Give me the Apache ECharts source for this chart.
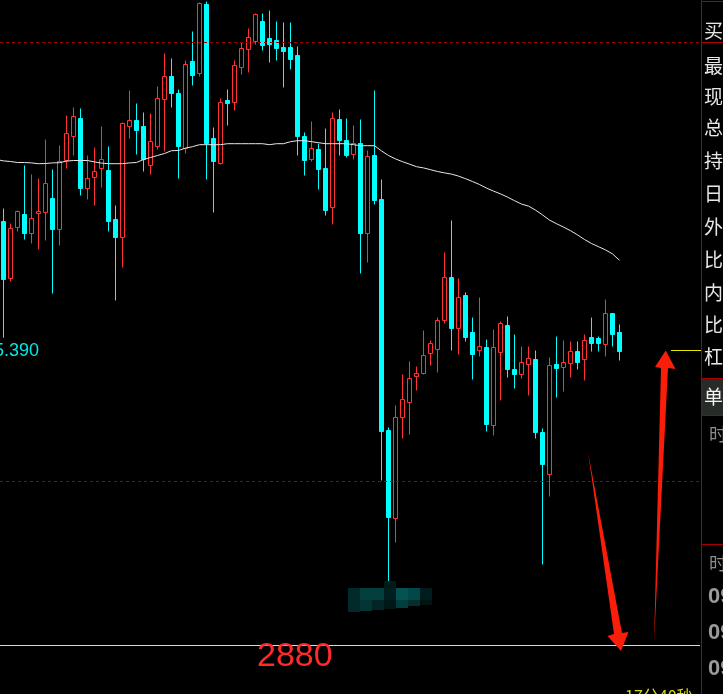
<!DOCTYPE html>
<html><head><meta charset="utf-8">
<style>html,body{margin:0;padding:0;background:#000;overflow:hidden}#c{width:723px;height:694px}</style>
<script src="https://cdn.jsdelivr.net/npm/echarts@6/dist/echarts.min.js"></script>
</head><body><div id="c"></div>
<script>
// ---- data (prices) ----
const opens = [2901.20,2898.35,2900.90,2901.55,2900.60,2901.60,2901.65,2902.35,2900.80,2904.25,
2905.45,2906.35,2902.85,2903.40,2903.85,2903.75,2901.30,2900.40,2905.95,2906.25,
2905.95,2904.00,2904.95,2907.30,2908.45,2907.60,2904.85,2909.20,2908.60,2912.05,
2905.35,2904.10,2907.25,2907.15,2908.90,2909.80,2910.20,2911.20,2910.35,2910.25,
2909.90,2909.90,2909.50,2905.45,2904.30,2904.80,2903.85,2901.90,2906.30,2905.25,
2904.55,2905.10,2900.60,2904.50,2902.30,2890.75,2886.35,2891.40,2892.15,2893.45,
2893.60,2894.60,2894.80,2896.25,2898.40,2895.85,2897.50,2895.65,2894.75,2894.90,
2891.00,2894.65,2896.00,2893.80,2893.55,2894.05,2894.30,2890.65,2888.55,2894.05,
2893.90,2894.10,2894.70,2894.30,2895.40,2895.35,2895.05,2896.60,2895.65];
const closes = [2898.30,2900.85,2901.70,2900.60,2901.35,2901.70,2903.10,2900.80,2904.20,2905.60,
2906.45,2902.85,2903.35,2903.70,2904.30,2901.20,2900.40,2906.10,2906.25,2905.75,
2904.30,2905.20,2907.35,2908.45,2907.60,2904.95,2909.05,2908.50,2912.10,2905.10,
2904.20,2907.15,2907.10,2909.00,2909.85,2910.40,2911.55,2910.00,2910.05,2909.85,
2909.70,2909.30,2905.45,2904.25,2904.85,2903.80,2901.75,2906.35,2905.25,2904.50,
2905.10,2900.60,2904.45,2902.25,2890.70,2886.40,2891.40,2892.30,2893.35,2893.60,
2894.50,2895.10,2896.25,2898.40,2895.85,2897.40,2895.40,2894.55,2894.95,2891.05,
2894.90,2896.10,2893.80,2893.55,2894.15,2894.35,2890.65,2889.05,2894.00,2893.85,
2894.15,2894.70,2894.15,2895.25,2895.10,2895.10,2896.60,2895.55,2894.70];
const lows = [2895.39,2898.20,2900.70,2900.30,2900.10,2899.80,2900.25,2897.60,2900.00,2903.85,
2904.50,2902.50,2902.30,2902.00,2902.90,2900.70,2897.25,2898.90,2905.35,2904.55,
2903.70,2903.55,2904.80,2904.70,2906.90,2903.35,2904.60,2908.00,2908.45,2903.30,
2901.65,2904.05,2906.00,2906.75,2908.55,2908.65,2910.05,2909.75,2909.15,2909.25,
2907.90,2908.80,2904.50,2903.50,2904.20,2902.80,2901.50,2901.05,2904.50,2904.40,
2904.30,2898.60,2899.15,2902.05,2888.25,2883.15,2885.15,2890.35,2890.55,2892.75,
2893.55,2894.00,2893.65,2896.10,2894.75,2894.55,2895.20,2893.30,2894.45,2890.70,
2890.50,2892.25,2893.40,2892.85,2893.35,2892.50,2890.35,2884.05,2887.45,2892.40,
2892.70,2893.40,2893.80,2893.25,2894.70,2894.70,2894.45,2894.95,2894.25];
const highs = [2901.85,2901.10,2901.75,2904.00,2903.55,2903.35,2905.30,2903.80,2905.00,2906.50,
2906.90,2906.85,2904.50,2904.90,2905.95,2904.95,2902.00,2906.15,2907.75,2907.10,
2906.65,2906.60,2907.95,2909.60,2909.35,2907.80,2909.25,2910.70,2912.15,2912.20,
2905.90,2907.35,2907.80,2909.25,2910.15,2910.85,2911.60,2911.60,2911.75,2911.20,
2911.15,2911.15,2909.95,2905.65,2906.20,2905.10,2905.85,2906.65,2906.80,2906.35,
2906.00,2906.30,2904.75,2907.75,2903.30,2890.90,2892.00,2893.55,2894.20,2893.95,
2895.75,2895.25,2896.40,2899.65,2901.25,2898.35,2897.65,2896.40,2897.40,2895.30,
2895.80,2896.20,2896.45,2895.55,2894.95,2894.95,2894.75,2890.85,2894.40,2895.45,
2895.25,2895.20,2895.20,2895.55,2896.40,2895.45,2897.30,2896.60,2896.05];
const ma = [2904.23,2904.20,2904.15,2904.15,2904.13,2904.09,2904.10,2904.13,2904.14,2904.22,
2904.25,2904.25,2904.25,2904.18,2904.12,2904.09,2904.09,2904.09,2904.13,2904.15,
2904.30,2904.40,2904.50,2904.60,2904.74,2904.75,2904.87,2904.94,2905.04,2905.04,
2905.04,2905.04,2905.09,2905.09,2905.09,2905.09,2905.09,2905.09,2905.04,2905.09,
2905.09,2905.19,2905.24,2905.24,2905.19,2905.14,2905.09,2905.09,2905.09,2905.09,
2905.04,2904.99,2904.99,2904.99,2904.73,2904.50,2904.33,2904.19,2904.07,2903.94,
2903.88,2903.79,2903.70,2903.63,2903.57,2903.47,2903.34,2903.20,2903.05,2902.87,
2902.72,2902.58,2902.42,2902.24,2902.07,2901.97,2901.77,2901.53,2901.27,2901.09,
2900.92,2900.74,2900.53,2900.30,2900.10,2899.94,2899.78,2899.58,2899.26];
const upperDashLevel = 2910.15;
const lowerDashLevel = 2888.20;
const supportLevel = 2880;
const lastPrice = 2894.75;
const supportLabel = '2880';
const lowLabel = '5.390';
const panelTop = '买';
const panelRows = ['最','现','总','持','日','外','比','内','比','杠'];
const panelRowY = [66,97,128,161,194,227,260,293,325,357];
const timeRows = ['09','09','09'];
const timerText = '17分40秒';
const slots = 100;

const categories = Array.from({length: slots}, (_, i) => String(i + 1));
const candleData = opens.map((o, i) => [o, closes[i], lows[i], highs[i]]);

const chart = echarts.init(document.getElementById('c'), null, {renderer: 'canvas'});
chart.setOption({
  backgroundColor: '#000',
  animation: false,
  grid: {left: 0, top: 0, width: 700, height: 694},
  xAxis: {type: 'category', data: categories, boundaryGap: true, show: false},
  yAxis: {type: 'value', min: 2877.575, max: 2912.275, show: false, splitLine: {show: false}},
  series: [
    {
      type: 'candlestick', data: candleData, barWidth: 4,
      itemStyle: {color: '#000', color0: '#00ffff', borderColor: '#ff3333', borderColor0: '#00ffff', borderWidth: 1},
      markLine: {
        silent: true, symbol: ['none','none'], label: {show: false}, animation: false,
        data: [
          {yAxis: upperDashLevel, lineStyle: {color: '#9a0000', width: 1, type: [3,3]}},
          {yAxis: lowerDashLevel, lineStyle: {color: '#9a0000', width: 1, type: [3,3]}},
          {yAxis: supportLevel, lineStyle: {color: '#d8d8d8', width: 1, type: 'solid'}}
        ]
      }
    },
    {type: 'line', data: ma, symbol: 'none', smooth: false, z: 5, lineStyle: {color: '#e8e8e8', width: 1}}
  ]
});

const yPx = v => Math.round(chart.convertToPixel({yAxisIndex: 0}, v) - 0.5) + 0.5;
const g = [];
// MA line continues from the left edge to the first candle
const ma0 = chart.convertToPixel({xAxisIndex: 0, yAxisIndex: 0}, [0, ma[0]]);
g.push({type:'line', shape:{x1:0, y1:ma0[1] - 0.7, x2:ma0[0], y2:ma0[1]}, style:{stroke:'#e8e8e8', lineWidth:1}, z:20});
// mosaic block
const mosaic = [
  [384,581,12,7,'#011a1a'],
  [348,588,12,12,'#012b2b'],[360,588,24,12,'#033f3f'],[384,588,12,12,'#011f1f'],[396,588,12,12,'#045252'],[408,588,12,12,'#034848'],[420,588,12,12,'#011c1c'],
  [348,600,12,12,'#022a2a'],[360,600,12,11,'#033535'],[372,600,12,10,'#022626'],[384,600,12,9,'#011818'],[396,600,12,8,'#033e3e'],[408,600,12,6,'#022e2e'],[420,600,12,5,'#011414']
];
mosaic.forEach(m => g.push({type:'rect', shape:{x:m[0],y:m[1],width:m[2],height:m[3]}, style:{fill:m[4]}, z: 20}));
// support label
g.push({type:'text', style:{text: supportLabel, x:257, y:656.5, align:'left', verticalAlign:'middle', font:'34px "Liberation Sans", Arial, sans-serif', fill:'#ff2a2a'}, z:20});
// low label
g.push({type:'text', style:{text: lowLabel, x:39, y:351, align:'right', verticalAlign:'middle', font:'18px "Liberation Sans", Arial, sans-serif', fill:'#00e8e8'}, z:20});
// last price yellow marker
const ly = yPx(lastPrice);
g.push({type:'line', shape:{x1:671, y1:ly, x2:701, y2:ly}, style:{stroke:'#e6e600', lineWidth:1}, z:20});
// arrows
const arrowRed = '#fa1e0a';
g.push({type:'polygon', shape:{points:[[588,452],[622,633],[628.5,632],[621,651],[607.5,636],[614,634]]}, style:{fill: arrowRed}, z:21});
g.push({type:'polygon', shape:{points:[[654,643],[668,368],[675.5,369],[665.7,350.5],[655,367],[661,368]]}, style:{fill: arrowRed}, z:21});
// right panel
const border = '#a80000';
g.push({type:'rect', shape:{x:702, y:379, width:21, height:36}, style:{fill:'#282c28'}, z:19});
g.push({type:'line', shape:{x1:701.5, y1:0, x2:701.5, y2:694}, style:{stroke:border, lineWidth:1}, z:20});
[1.5, 42.5, 378.5, 415.5, 544.5].forEach(y => g.push({type:'line', shape:{x1:701, y1:y, x2:723, y2:y}, style:{stroke:border, lineWidth:1}, z:20}));
const cjk = '"Noto Sans CJK SC", sans-serif';
g.push({type:'text', style:{text: panelTop, x:704, y:31, align:'left', verticalAlign:'middle', font:'19px ' + cjk, fill:'#e6e6e6'}, z:22});
panelRows.forEach((t, i) => g.push({type:'text', style:{text: t, x:704, y: panelRowY[i], align:'left', verticalAlign:'middle', font:'19px ' + cjk, fill:'#e6e6e6'}, z:22}));
g.push({type:'text', style:{text:'单', x:704, y:397, align:'left', verticalAlign:'middle', font:'19px ' + cjk, fill:'#f2f2f2'}, z:22});
g.push({type:'text', style:{text:'时', x:709, y:434, align:'left', verticalAlign:'middle', font:'18px ' + cjk, fill:'#8c8c8c'}, z:22});
g.push({type:'text', style:{text:'时', x:709, y:563, align:'left', verticalAlign:'middle', font:'18px ' + cjk, fill:'#8c8c8c'}, z:22});
[596, 632, 668].forEach((y, i) => g.push({type:'text', style:{text: timeRows[i], x:708, y: y + 1, align:'left', verticalAlign:'middle', font:'bold 22px "Liberation Sans", Arial, sans-serif', fill:'#9a9a9a'}, z:22}));
g.push({type:'text', style:{text: timerText, x:625, y:688, align:'left', verticalAlign:'top', font:'16px ' + cjk, fill:'#d8d800'}, z:22});
chart.setOption({graphic: g});
</script></body></html>
